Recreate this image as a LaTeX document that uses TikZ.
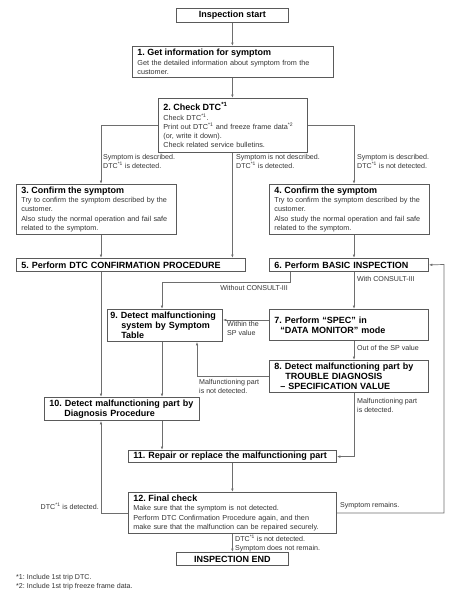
\documentclass[tikz,border=0pt]{standalone}
\usepackage{fontspec}
\setmainfont{Liberation Sans}
\usetikzlibrary{arrows.meta,positioning,calc}
\definecolor{frame}{HTML}{5A5A5A}
\definecolor{wire}{HTML}{6E6E6E}
\definecolor{ink}{HTML}{333333}
\frenchspacing
\hyphenpenalty=10000
\newcommand{\fna}{\textsuperscript{*1}}
\newcommand{\fnb}{\textsuperscript{*2}}
\newcommand{\hd}[1]{{\fontsize{9}{9.3}\selectfont\bfseries\color{black}#1}}
\tikzset{
  procbox/.style={rectangle, draw=frame, line width=0.8pt, anchor=north west,
    text width=#1, inner xsep=5pt, inner ysep=2pt, align=left,
    font=\fontsize{7.25}{9.3}\selectfont, text=ink},
  titlebox/.style={procbox=#1, font=\fontsize{9}{10}\selectfont\bfseries, text=black},
  termbox/.style={rectangle, draw=frame, line width=0.8pt, anchor=north west,
    minimum width=112pt, minimum height=14pt, inner sep=1pt,
    font=\fontsize{9}{10}\selectfont\bfseries},
  flowline/.style={-{Latex[length=3.5pt,width=2.6pt]}, draw=wire, line width=0.7pt},
  branchlbl/.style={font=\fontsize{7.1}{9}\selectfont, text=ink, align=left, inner sep=0pt},
}

\begin{document}
\begin{tikzpicture}[x=1pt, y=-1pt]
  \useasboundingbox (0,0) rectangle (460,597);
  % boxes
  \node[termbox] (insp) at (176,8) {Inspection start};
  \node[procbox=191pt, minimum height=31pt] (s1) at (132,46)
    {\hd{1. Get information for symptom}\\Get the detailed information about symptom from the\\customer.};
  \node[procbox=139pt, minimum height=54pt] (s2) at (158,98)
    {\hd{2. Check DTC\fna}\\Check DTC\fna.\\Print out DTC\fna{} and freeze frame data\fnb\\(or, write it down).\\Check related service bulletins.};
  \node[procbox=150pt, minimum height=50pt] (s3) at (16,184)
    {\hd{3. Confirm the symptom}\\Try to confirm the symptom described by the\\customer.\\Also study the normal operation and fail safe\\related to the symptom.};
  \node[procbox=150pt, minimum height=50pt] (s4) at (269,184)
    {\hd{4. Confirm the symptom}\\Try to confirm the symptom described by the\\customer.\\Also study the normal operation and fail safe\\related to the symptom.};
  \node[titlebox=219pt, minimum height=13pt] (s5) at (16,258) {5. Perform DTC CONFIRMATION PROCEDURE};
  \node[titlebox=149pt, minimum height=13pt] (s6) at (269,258) {6. Perform BASIC INSPECTION};
  \node[titlebox=109pt, inner xsep=3pt, minimum height=32pt] (s9) at (107,309)
    {9. Detect malfunctioning\\\hspace*{11pt}system by Symptom\\\hspace*{11pt}Table};
  \node[titlebox=149pt, minimum height=31pt] (s7) at (269,309)
    {7. Perform “SPEC” in\\\hspace*{6pt}“DATA MONITOR” mode};
  \node[titlebox=149pt, minimum height=32pt] (s8) at (269,360)
    {8. Detect malfunctioning part by\\\hspace*{11pt}TROUBLE DIAGNOSIS\\\hspace*{6pt}– SPECIFICATION VALUE};
  \node[titlebox=145pt, minimum height=23pt] (s10) at (44,397)
    {10. Detect malfunctioning part by\\\hspace*{15pt}Diagnosis Procedure};
  \node[titlebox=198pt, minimum height=12pt] (s11) at (128,450) {11. Repair or replace the malfunctioning part};
  \node[procbox=198pt, minimum height=41pt] (s12) at (128,492)
    {\hd{12. Final check}\\Make sure that the symptom is not detected.\\Perform DTC Confirmation Procedure again, and then\\make sure that the malfunction can be repaired securely.};
  \node[termbox, minimum height=13pt] (done) at (176,552) {INSPECTION END};

  % routing points
  \coordinate (colL) at (101,0);
  \coordinate (colR) at (354,0);
  \coordinate (col6) at (290,0);
  \coordinate (col8) at (197,0);
  \coordinate (split) at (0,125);
  \coordinate (row7) at (0,320);
  \coordinate (row8) at (0,376);
  \coordinate (jog6) at (162,282);
  \coordinate (ret) at (444,264.5);

  % connectors
  \draw[flowline] (insp.south) -- (s1.north -| insp.south);
  \draw[flowline] (s1.south -| insp.south) -- (s2.north -| insp.south);
  \draw[flowline] (s2.west |- split) -| (s3.north -| colL);
  \draw[flowline] (s2.east |- split) -| (s4.north -| colR);
  \draw[flowline] (s2.south -| insp.south) -- (s5.north -| insp.south);
  \draw[flowline] (s3.south -| colL) -- (s5.north -| colL);
  \draw[flowline] (s4.south -| colR) -- (s6.north -| colR);
  \draw[flowline] (s6.south -| col6) |- (jog6) -- (s9.north -| jog6);
  \draw[flowline] (s6.south -| colR) -- (s7.north -| colR);
  \draw[flowline] (s7.west |- row7) -- (s9.east |- row7);
  \draw[flowline] (s7.south -| colR) -- (s8.north -| colR);
  \draw[flowline] (s8.west |- row8) -| (s9.south -| col8);
  \draw[flowline] (s5.south -| colL) -- (s10.north -| colL);
  \draw[flowline] (s9.south -| jog6) -- (s10.north -| jog6);
  \draw[flowline] (s10.south -| jog6) -- (s11.north -| jog6);
  \draw[flowline] (s8.south -| colR) |- (s11.east);
  \draw[flowline] (s11.south -| insp.south) -- (s12.north -| insp.south);
  \draw[flowline] (s12.west) -| (s10.south -| colL);
  \draw[flowline] (s12.east) -| (ret) -- (s6.east);
  \draw[flowline] (s12.south -| insp.south) -- (done.north -| insp.south);

  % branch labels
  \node[branchlbl, anchor=north west] (l3) at (103,154) {Symptom is described.\\DTC\fna{} is detected.};
  \node[branchlbl, anchor=north west] (l5) at (236,154) {Symptom is not described.\\DTC\fna{} is detected.};
  \node[branchlbl, anchor=north west] (l4) at (357,154) {Symptom is described.\\DTC\fna{} is not detected.};
  \node[branchlbl, anchor=north east] (l9) at (288,285) {Without CONSULT-III};
  \node[branchlbl, anchor=north west] (l7) at (357,276) {With CONSULT-III};
  \node[branchlbl, anchor=north west] (lsp) at (227,321) {Within the\\SP value};
  \node[branchlbl, anchor=north west] (lout) at (357,345) {Out of the SP value};
  \node[branchlbl, anchor=north west] (lnd) at (199,379) {Malfunctioning part\\is not detected.};
  \node[branchlbl, anchor=north west] (ldt) at (357,398) {Malfunctioning part\\is detected.};
  \node[branchlbl, anchor=east] (lagain) at (99,506) {DTC\fna{} is detected.};
  \node[branchlbl, anchor=west] (lrem) at (340,506) {Symptom remains.};
  \node[branchlbl, anchor=north west] (lok) at (235,535) {DTC\fna{} is not detected.\\Symptom does not remain.};
  \node[branchlbl, anchor=north west] (notes) at (16,574) {*1: Include 1st trip DTC.\\*2: Include 1st trip freeze frame data.};
\end{tikzpicture}
\end{document}
